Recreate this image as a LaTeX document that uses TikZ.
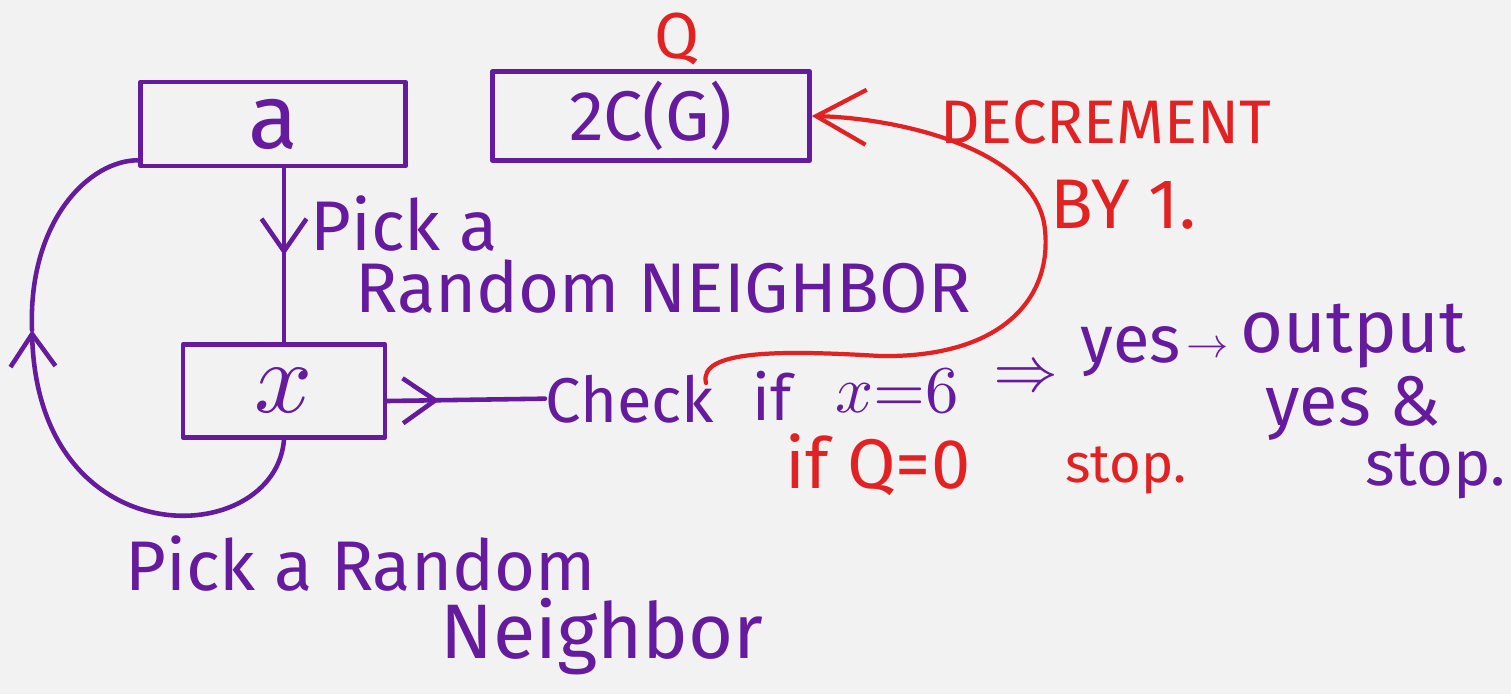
\documentclass[tikz,border=0pt]{standalone}
\usepackage{fontspec}
\usepackage{unicode-math}
\setmainfont{Fira Sans}
\setmathfont{Latin Modern Math}
\usetikzlibrary{arrows.meta,decorations.markings,calc}
\definecolor{pen}{RGB}{102,26,158}
\definecolor{redpen}{RGB}{226,34,34}
\definecolor{paper}{RGB}{242,242,242}
\newcommand{\fsz}[1]{\fontsize{#1}{#1}\selectfont}
\tikzset{
  ink/.style={draw=pen, line width=2.6pt, line cap=round, line join=round},
  redink/.style={draw=redpen, line width=2.4pt, line cap=round, line join=round},
  box/.style={ink, rectangle, inner sep=0pt, text=pen},
  hw/.style={text=pen, inner sep=0pt, anchor=base west},
  rhw/.style={text=redpen, inner sep=0pt, anchor=base west},
  penbarb/.tip={Straight Barb[length=0.65cm,width=0.9cm]},
  redbarb/.tip={Straight Barb[length=1.0cm,width=1.1cm]},
  midarrow/.style={postaction={decorate},
    decoration={markings, mark=at position #1 with {\arrow{penbarb}}}}
}
\begin{document}
\begin{tikzpicture}[x=0.02cm,y=-0.02cm]
\fill[paper] (0,0) rectangle (1511,694);
\useasboundingbox (0,0) rectangle (1511,694);

% boxes
\node[box, minimum width=5.3cm, minimum height=1.68cm, font=\fsz{52}] (a) at (273,124) {a};
\node[box, minimum width=6.34cm, minimum height=1.78cm, font=\fsz{40}] (q) at (651,116) {2C(G)\hspace{0.5cm}};
\node[box, minimum width=4.04cm, minimum height=1.86cm, font=\fsz{58}] (x) at (284,391) {$x$};

% labels
\node[rhw, font=\fsz{37}] (qlab) at (654,58) {Q};
\node[rhw, font=\fsz{35}] (dec) at (940,143) {DECREMENT};
\node[rhw, font=\fsz{40}] (by) at (1050,228) {BY 1.};

\node[hw, font=\fsz{40}] (pick1) at (310,250) {Pick a};
\node[hw, font=\fsz{40}] (rand1) at (355,312) {Random NEIGHBOR};

\node[hw, font=\fsz{36}] (chk) at (545,422) {Check};
\node[hw, font=\fsz{36}] (iff) at (752,420) {if};
\node[hw, font=\fsz{38}] (eq) at (835,412) {$x{=}6$};
\node[hw, font=\fsz{37}] (impl) at (993,391) {$\Rightarrow$};
\node[hw, font=\fsz{38}] (yes1) at (1080,362) {yes};
\node[hw, font=\fsz{24}] (to) at (1186,357) {$\rightarrow$};
\node[hw, font=\fsz{42}] (out) at (1240,352) {output};
\node[hw, font=\fsz{40}] (yes2) at (1265,425) {yes \&};
\node[hw, font=\fsz{36}] (stop1) at (1365,485) {stop.};

\node[rhw, font=\fsz{40}] (ifq) at (785,488) {if Q=0};
\node[rhw, font=\fsz{31}] (stop2) at (1065,482) {stop.};

\node[hw, font=\fsz{40}] (pick2) at (125,590) {Pick a Random};
\node[hw, font=\fsz{44}] (neigh) at (440,658) {Neighbor};

% connectors
\draw[ink, midarrow=0.5] (x.north |- a.south) -- (x.north);
\draw[ink, midarrow=0.33] ([yshift=-0.2cm]x.east) -- (chk.west);

\coordinate (lp) at (32,330);
\draw[ink, -{penbarb}] (x.south) .. controls (275,550) and (38,560) .. (lp);
\draw[ink] (lp) .. controls (28,220) and (90,160) .. ($(a.south west)+(0,-8)$);

\coordinate (rs) at (706,383);
\draw[redink, -{redbarb}] (rs) .. controls (698,350) and (780,350) .. (880,356)
  .. controls (1000,358) and (1052,300) .. (1045,230)
  .. controls (1038,150) and (900,118) .. (q.east);
\end{tikzpicture}
\end{document}
